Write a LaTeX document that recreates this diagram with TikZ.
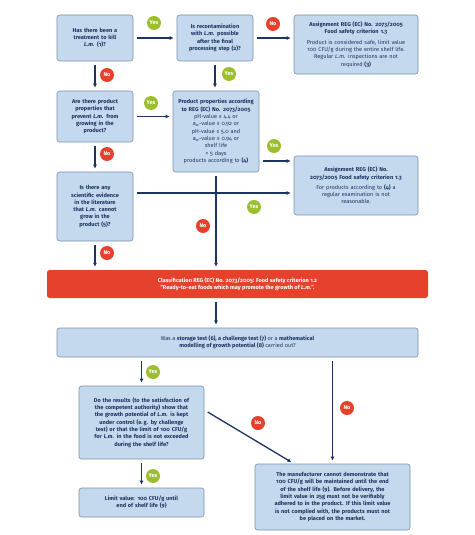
\documentclass[tikz,border=0pt]{standalone}
\usepackage{fontspec}
\setmainfont{Fira Sans}[Numbers=OldStyle]
\usepackage{tikz}
\usetikzlibrary{positioning, arrows.meta, calc}

\definecolor{boxfill}{RGB}{197,217,238}
\definecolor{boxline}{RGB}{122,142,168}
\definecolor{navy}{RGB}{28,52,96}
\definecolor{alarmred}{RGB}{230,65,44}
\definecolor{yesgreen}{RGB}{157,190,46}
\newcommand{\boxfont}{\fontsize{5.6}{7.3}\selectfont}
\newcommand{\Lm}{\textit{L.m.}}

\begin{document}
\begin{tikzpicture}[x=1pt, y=-1pt,
  box/.style={draw=boxline, fill=boxfill, rounded corners=2.5pt, line width=0.6pt,
    align=center, text=navy, font=\boxfont, inner sep=2pt},
  qbox/.style={box, font=\boxfont\bfseries},
  redbar/.style={fill=alarmred, rounded corners=2.5pt, align=center, text=white,
    font=\boxfont\bfseries, inner sep=2pt},
  flow/.style={draw=navy, line width=1.3pt, -{Latex[length=4pt,width=4pt]},
    shorten <=4pt, shorten >=3pt},
  yeslabel/.style={circle, fill=yesgreen, text=white, font=\fontsize{5.5}{6}\selectfont\bfseries,
    minimum size=14pt, inner sep=0pt},
  nolabel/.style={yeslabel, fill=alarmred}]
\useasboundingbox (0,0) rectangle (474,535);

% decision column
\node (treat) [qbox, minimum width=76pt, minimum height=46pt, text width=72pt] at (95,38)
  {Has there been a\\ treatment to kill\\ \Lm{} (1)?};
\node (recont) [qbox, minimum width=76pt, minimum height=46pt, text width=72pt] at (215,38)
  {Is recontamination\\ with \Lm{} possible\\ after the final\\ processing step (2)?};
\node (safe) [box, minimum width=124pt, minimum height=59pt, text width=120pt] at (356,44.5)
  {\textbf{Assignment REG (EC) No. 2073/2005}\\ \textbf{Food safety criterion 1.3}\\[3pt]
   Product is considered safe, limit value\\ 100 CFU/g during the entire shelf life.\\
   Regular \Lm{} inspections are not\\ required \textbf{(3)}};
\node (prop) [qbox, minimum width=76pt, minimum height=51pt, text width=72pt] at (95,116.5)
  {Are there product\\ properties that\\ prevent \Lm{} from\\ growing in the\\ product?};
\node (crit) [box, minimum width=86pt, minimum height=81pt, text width=82pt] at (216,131.5)
  {\textbf{Product properties according}\\ \textbf{to REG (EC) No. 2073/2005}\\
   pH-value ≤ 4.4 or\\ a\textsubscript{w}-value ≤ 0.92 or\\ pH-value ≤ 5.0 and\\
   a\textsubscript{w}-value ≤ 0.94 or\\ shelf life\\ < 5 days\\ products according to \textbf{(4)}};
\node (noexam) [box, minimum width=124pt, minimum height=59pt, text width=120pt] at (356,185.5)
  {\textbf{Assignment REG (EC) No.}\\ \textbf{2073/2005 Food safety criterion 1.3}\\[3pt]
   For products according to \textbf{(4)} a\\ regular examination is not\\ reasonable.};
\node (evid) [qbox, minimum width=76pt, minimum height=69pt, text width=72pt] at (95,206.5)
  {Is there any\\ scientific evidence\\ in the literature\\ that \Lm{} cannot\\ grow in the\\ product (5)?};

% classification and tests
\node (class) [redbar, minimum width=381pt, minimum height=28pt] at (237.5,284)
  {Classification REG (EC) No. 2073/2005: Food safety criterion 1.2\\
   “Ready-to-eat foods which may promote the growth of \Lm{}”.};
\node (tests) [box, minimum width=361pt, minimum height=29pt] at (237.5,342.5)
  {Was a \textbf{storage test (6), a challenge test (7)} or a \textbf{mathematical}\\
   \textbf{modelling of growth potential (8)} carried out?};
\node (result) [qbox, minimum width=125pt, minimum height=73pt, text width=121pt] at (141.5,422.5)
  {Do the results (to the satisfaction of\\ the competent authority) show that\\
   the growth potential of \Lm{} is kept\\ under control (e.\,g. by challenge\\
   test) or that the limit of 100 CFU/g\\ for \Lm{} in the food is not exceeded\\ during the shelf life?};
\node (limit) [qbox, minimum width=125pt, minimum height=29pt, text width=121pt] at (141.5,502.5)
  {Limit value: 100 CFU/g until\\ end of shelf life (9)};
\node (fail) [qbox, minimum width=155pt, minimum height=66pt, text width=151pt] at (332.5,497)
  {The manufacturer cannot demonstrate that\\ 100 CFU/g will be maintained until the end\\
   of the shelf life (9). Before delivery, the\\ limit value in 25g must not be verifiably\\
   adhered to in the product. If this limit value\\ is not complied with, the products must not\\
   be placed on the market.};

% connectors
\draw[flow] (treat) -- (recont);
\draw[flow] (recont) -- (safe.west |- recont);
\draw[flow] (treat) -- (prop);
\draw[flow] (recont) -- (recont |- crit.north);
\draw[flow] (prop) -- (crit.west |- prop);
\draw[flow] (prop) -- (evid);
\draw[flow] ([yshift=-29.5pt]crit.east) -- ([yshift=-29.5pt]crit.east -| noexam.west);
\draw[flow] ([yshift=13.5pt]evid.east) -- ([yshift=13.5pt]evid.east -| noexam.west);
\draw[flow] (crit.south) -- (crit.south |- class.north);
\draw[flow] (evid) -- (evid |- class.north);
\draw[flow] (crit.south |- class.south) -- (crit.south |- tests.north);
\draw[flow] (result.north |- tests.south) -- (result.north);
\draw[flow] ([yshift=12.5pt]result.east) -- ([xshift=-38.5pt]fail.north);
\draw[flow] (fail.north |- tests.south) -- (fail.north);
\draw[flow] (result) -- (limit);

% answer marks
\node (y1) [yeslabel] at (154,23) {Yes};
\node (n1) [nolabel] at (273,24) {No};
\node (n2) [nolabel] at (107,75) {No};
\node (y2) [yeslabel] at (229,74) {Yes};
\node (y3) [yeslabel] at (151,103) {Yes};
\node (n3) [nolabel] at (107,154) {No};
\node (y4) [yeslabel] at (274,146) {Yes};
\node (y5) [yeslabel] at (254,207) {Yes};
\node (n4) [nolabel] at (203,226) {No};
\node (n5) [nolabel] at (107,253) {No};
\node (y6) [yeslabel] at (153,372) {Yes};
\node (n6) [nolabel] at (258,423) {No};
\node (n7) [nolabel] at (347,408) {No};
\node (y7) [yeslabel] at (153,476) {Yes};
\end{tikzpicture}
\end{document}
